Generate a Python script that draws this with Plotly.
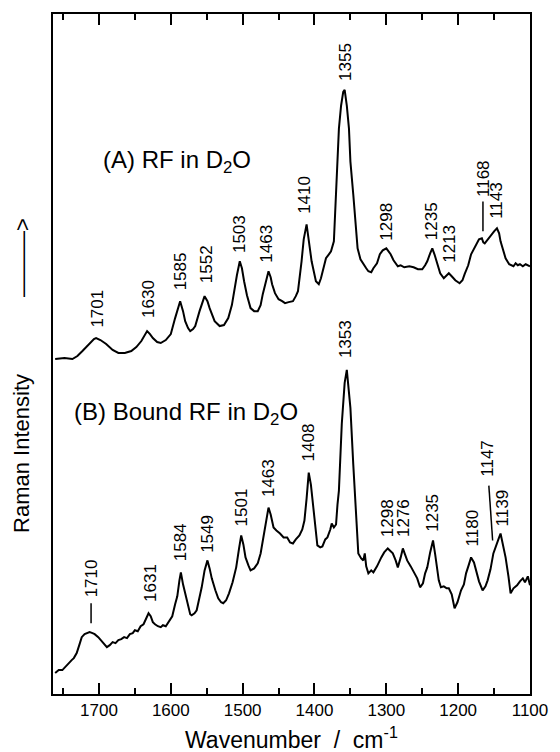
import plotly.graph_objects as go

# ---------------- data ----------------
wn_a = [1761, 1748, 1737, 1730, 1723, 1713, 1707, 1704, 1698, 1690, 1681, 1673, 1664, 1655, 1648,
        1641, 1636, 1633, 1629, 1625, 1619, 1614, 1607, 1600, 1594, 1590, 1587, 1583, 1580, 1576,
        1573, 1569, 1566, 1560, 1556, 1553, 1549, 1546, 1539, 1532, 1526, 1520, 1515, 1512, 1508,
        1504, 1501, 1498, 1494, 1489, 1484, 1479, 1475, 1472, 1468, 1464, 1461, 1459, 1455, 1450,
        1445, 1441, 1436, 1430, 1426, 1423, 1418, 1415, 1411, 1408, 1404, 1398, 1394, 1391, 1387,
        1384, 1380, 1377, 1373, 1370, 1366, 1363, 1360, 1358, 1355, 1352, 1350, 1346, 1343, 1340,
        1336, 1332, 1328, 1325, 1321, 1318, 1313, 1309, 1305, 1300, 1297, 1294, 1290, 1284, 1280,
        1275, 1268, 1262, 1256, 1250, 1246, 1243, 1239, 1236, 1233, 1230, 1225, 1220, 1216, 1213,
        1209, 1204, 1198, 1194, 1191, 1186, 1182, 1176, 1171, 1167, 1165, 1163, 1160, 1155, 1150,
        1146, 1143, 1141, 1137, 1134, 1129, 1123, 1120, 1117, 1114, 1110, 1106, 1100]
int_a = [336, 337, 336, 339, 344, 352, 356, 357, 355, 351, 345, 342, 342, 344, 348,
         354, 360, 364, 361, 357, 353, 352, 355, 361, 377, 388, 394, 384, 374, 367,
         364, 366, 369, 384, 394, 399, 394, 387, 374, 369, 370, 377, 390, 404, 420,
         434, 427, 414, 400, 387, 384, 384, 390, 401, 414, 424, 418, 411, 402, 396,
         394, 392, 393, 394, 399, 404, 434, 456, 471, 455, 434, 414, 411, 417, 427,
         437, 441, 444, 454, 501, 567, 590, 604, 606, 590, 567, 534, 501, 470, 447,
         436, 431, 427, 424, 423, 427, 432, 441, 445, 447, 444, 441, 435, 429, 430,
         428, 429, 428, 426, 426, 430, 434, 442, 447, 441, 434, 422, 417, 420, 422,
         419, 415, 412, 415, 421, 430, 441, 450, 456, 457, 453, 452, 455, 459, 464,
         467, 462, 454, 444, 437, 431, 429, 432, 430, 431, 429, 431, 429]

wn_b = [1761, 1756, 1751, 1745, 1738, 1735, 1731, 1727, 1724, 1720, 1716, 1713, 1709, 1706, 1701,
        1697, 1693, 1689, 1685, 1681, 1677, 1673, 1669, 1665, 1661, 1657, 1653, 1650, 1646, 1642,
        1638, 1634, 1631, 1628, 1625, 1622, 1618, 1614, 1611, 1607, 1603, 1598, 1594, 1591, 1588,
        1586, 1583, 1580, 1576, 1573, 1571, 1567, 1564, 1560, 1557, 1553, 1549, 1546, 1543, 1538,
        1534, 1530, 1527, 1523, 1519, 1514, 1509, 1505, 1502, 1499, 1496, 1492, 1489, 1484, 1479,
        1475, 1471, 1467, 1464, 1461, 1457, 1453, 1448, 1443, 1438, 1434, 1430, 1426, 1421, 1417,
        1414, 1411, 1408, 1405, 1403, 1399, 1396, 1392, 1389, 1385, 1382, 1378, 1376, 1373, 1370,
        1368, 1366, 1362, 1358, 1355, 1352, 1350, 1346, 1342, 1339, 1335, 1332, 1330, 1328, 1325,
        1321, 1318, 1313, 1307, 1303, 1298, 1294, 1291, 1287, 1284, 1280, 1277, 1274, 1271, 1266,
        1261, 1257, 1253, 1249, 1246, 1243, 1239, 1235, 1232, 1230, 1227, 1224, 1220, 1216, 1213,
        1209, 1205, 1201, 1196, 1192, 1189, 1185, 1182, 1178, 1175, 1171, 1166, 1162, 1159, 1155,
        1151, 1148, 1144, 1141, 1138, 1134, 1130, 1127, 1123, 1118, 1114, 1110, 1107, 1103, 1100]
int_b = [21, 24, 24, 29, 34, 36, 41, 50, 57, 60, 61, 62, 61, 60, 57,
         54, 51, 47, 49, 52, 51, 54, 55, 57, 56, 60, 61, 64, 63, 68,
         70, 76, 81, 78, 72, 70, 68, 67, 69, 68, 73, 78, 90, 98, 114,
         122, 110, 101, 88, 80, 79, 81, 84, 96, 107, 124, 134, 126, 116, 104,
         96, 92, 91, 94, 101, 112, 127, 146, 159, 150, 137, 129, 124, 126, 131,
         141, 157, 175, 187, 180, 167, 164, 161, 157, 157, 152, 151, 155, 159, 165,
         174, 196, 222, 210, 197, 170, 149, 147, 148, 155, 157, 165, 171, 167, 170,
         190, 204, 271, 312, 325, 305, 287, 230, 180, 141, 136, 134, 141, 128, 121,
         124, 122, 128, 137, 142, 146, 143, 141, 134, 127, 137, 146, 140, 134, 128,
         121, 116, 107, 111, 121, 127, 142, 154, 140, 127, 114, 107, 108, 106, 106,
         100, 86, 92, 104, 110, 121, 130, 137, 132, 124, 113, 104, 108, 114, 125,
         141, 148, 155, 161, 150, 137, 118, 101, 106, 109, 113, 116, 112, 118, 109]

labels_a = ["1701", "1630", "1585", "1552", "1503", "1463", "1410", "1355", "1298", "1235",
            "1213", "1168", "1143"]
labels_b = ["1710", "1631", "1584", "1549", "1501", "1463", "1408", "1353", "1298", "1276",
            "1235", "1180", "1147", "1139"]

# label positions on the chart (wavenumber of label centre, intensity of label foot)
lab_a_x = [1702, 1632, 1587, 1551, 1504, 1467, 1414, 1356, 1300, 1238, 1212, 1164, 1146]
lab_a_y = [366, 376, 404, 411, 441, 432, 481, 614, 454, 454, 431, 497, 476]
lab_b_x = [1711, 1628, 1586, 1549, 1501, 1464, 1408, 1356, 1298, 1276, 1236, 1180, 1159, 1137]
lab_b_y = [96, 91, 132, 141, 167, 196, 232, 336, 156, 156, 162, 147, 217, 167]

x_ticks = [1700, 1600, 1500, 1400, 1300, 1200, 1100]

FONT = "Liberation Sans, Arial, Helvetica, sans-serif"

fig = go.Figure()
fig.add_trace(go.Scatter(x=wn_a, y=int_a, mode="lines",
                         line=dict(color="black", width=2), showlegend=False))
fig.add_trace(go.Scatter(x=wn_b, y=int_b, mode="lines",
                         line=dict(color="black", width=2), showlegend=False))

ann = []
for t, x, y in zip(labels_a + labels_b, lab_a_x + lab_b_x, lab_a_y + lab_b_y):
    ann.append(dict(x=x, y=y, xref="x", yref="y", text=t, textangle=-90,
                    showarrow=False, xanchor="center", yanchor="bottom",
                    borderpad=0, font=dict(family=FONT, size=17, color="black")))

ann.append(dict(x=1697, y=534, xref="x", yref="y", text="(A) RF in D<sub>2</sub>O",
                showarrow=False, xanchor="left", yanchor="middle",
                font=dict(family=FONT, size=24, color="black")))
ann.append(dict(x=1737, y=281, xref="x", yref="y", text="(B) Bound RF in D<sub>2</sub>O",
                showarrow=False, xanchor="left", yanchor="middle",
                font=dict(family=FONT, size=24, color="black")))
# axis titles
ann.append(dict(x=0.5, y=0, xref="paper", yref="paper", yshift=-44,
                text="Wavenumber  /  cm<sup>-1</sup>", showarrow=False,
                xanchor="center", yanchor="middle",
                font=dict(family=FONT, size=23, color="black")))
ann.append(dict(x=0, y=0.353, xref="paper", yref="paper", xshift=-31,
                text="Raman Intensity", showarrow=False,
                textangle=-90, xanchor="center", yanchor="middle",
                font=dict(family=FONT, size=22, color="black")))
ann.append(dict(x=0, y=0.641, xref="paper", yref="paper", xshift=-31,
                text="\u2014\u2014\u2014>", showarrow=False,
                textangle=-90, xanchor="center", yanchor="middle",
                font=dict(family=FONT, size=22, color="black")))

shapes = [
    dict(type="line", xref="x", yref="y", x0=1165.5, x1=1165.5, y0=464, y1=494,
         line=dict(color="black", width=1.5)),
    dict(type="line", xref="x", yref="y", x0=1711, x1=1711, y0=71, y1=91,
         line=dict(color="black", width=1.5)),
    dict(type="line", xref="x", yref="y", x0=1157.3, x1=1152, y0=209, y1=154,
         line=dict(color="black", width=1.5)),
]

fig.update_layout(
    width=560, height=752,
    margin=dict(l=53, r=19, t=12, b=58),
    paper_bgcolor="white", plot_bgcolor="white",
    annotations=ann, shapes=shapes,
    font=dict(family=FONT, color="black"),
)
fig.update_xaxes(range=[1764, 1100], tickvals=x_ticks, ticks="inside", ticklen=11,
                 tickwidth=1.5, tickcolor="black", showline=True, linewidth=2,
                 linecolor="black", mirror="allticks", showgrid=False, zeroline=False,
                 ticklabeloverflow="allow",
                 tickfont=dict(family=FONT, size=17, color="black"),
                 minor=dict(dtick=50, tick0=1100, ticks="inside", ticklen=6,
                            tickwidth=1.5, tickcolor="black", showgrid=False))
fig.update_yaxes(range=[0, 682], showticklabels=False, ticks="", showline=True,
                 linewidth=2, linecolor="black", mirror=True, showgrid=False,
                 zeroline=False)

fig.write_html("out.html", config={"displayModeBar": False},
               post_script="document.body.style.margin='0px';document.body.style.overflow='hidden';")
